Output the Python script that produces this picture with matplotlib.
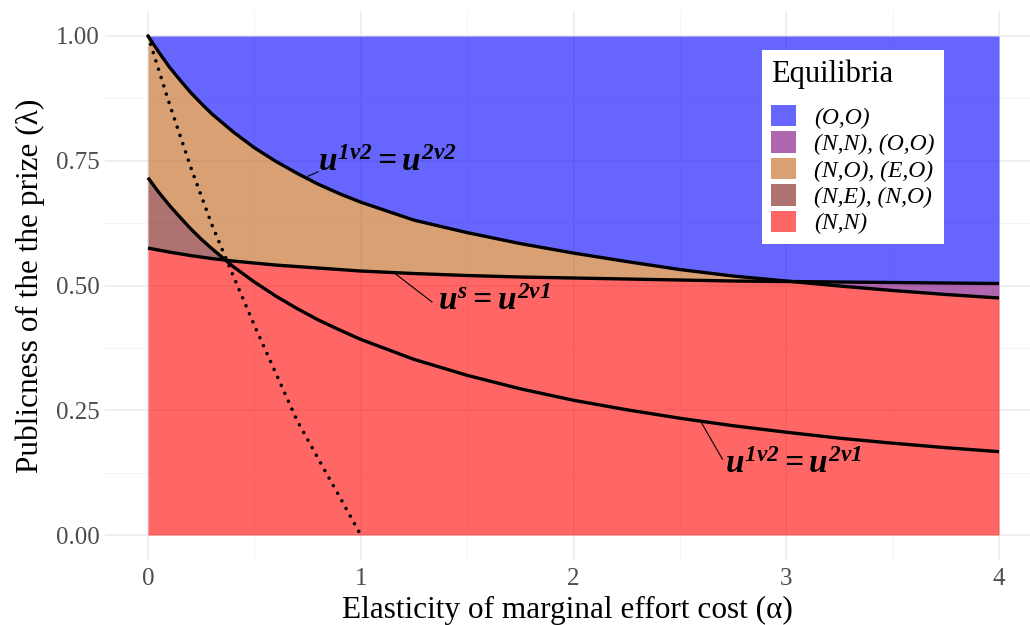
import numpy as np
import matplotlib
matplotlib.use("Agg")
import matplotlib.pyplot as plt
from matplotlib.patches import Patch
from matplotlib.ticker import MultipleLocator

# ---- data ----
alpha = [0, 0.05, 0.1, 0.15, 0.2, 0.25, 0.3, 0.4, 0.5, 0.6, 0.7, 0.8, 0.9, 1.0, 1.25,
         1.5, 1.75, 2.0, 2.25, 2.5, 2.75, 3.0, 3.25, 3.5, 3.75, 4.0]
u1v2_eq_u2v2 = [1.000, 0.968, 0.938, 0.912, 0.887, 0.865, 0.844, 0.808, 0.776, 0.749,
                0.725, 0.703, 0.684, 0.667, 0.631, 0.606, 0.584, 0.565, 0.548, 0.532,
                0.519, 0.509, 0.499, 0.490, 0.482, 0.475]
us_eq_u2v1 = [0.575, 0.571, 0.567, 0.5635, 0.560, 0.557, 0.554, 0.549, 0.545, 0.541,
              0.538, 0.535, 0.532, 0.529, 0.524, 0.520, 0.517, 0.515, 0.513, 0.511,
              0.509, 0.508, 0.507, 0.506, 0.505, 0.504]
u1v2_eq_u2v1 = [0.716, 0.687, 0.661, 0.637, 0.614, 0.593, 0.574, 0.538, 0.507, 0.479,
                0.454, 0.431, 0.411, 0.392, 0.352, 0.320, 0.293, 0.270, 0.251, 0.234,
                0.219, 0.206, 0.194, 0.184, 0.175, 0.167]
dot_alpha = [0, 0.1, 0.2, 0.3, 0.4, 0.5, 0.6, 0.7, 0.8, 0.9, 1.0]
dot_lambda = [1.0, 0.865, 0.738, 0.622, 0.52, 0.42, 0.325, 0.23, 0.153, 0.077, 0.0]

legend_labels = ["(O,O)", "(N,N), (O,O)", "(N,O), (E,O)", "(N,E), (N,O)", "(N,N)"]
region_colors = ["#0000FF", "#7B007B", "#C16117", "#781411", "#FF0000"]
fill_alpha = 0.6

# ---- style ----
plt.rcParams["font.family"] = ["Liberation Serif", "DejaVu Serif"]
plt.rcParams["mathtext.fontset"] = "custom"
plt.rcParams["mathtext.rm"] = "Liberation Serif:italic:bold"
plt.rcParams["mathtext.it"] = "Liberation Serif:italic:bold"
plt.rcParams["mathtext.bf"] = "Liberation Serif:bold"

fig = plt.figure(figsize=(10.30, 6.25), dpi=100)
ax = fig.add_axes([105 / 1030, 1 - 560 / 625, (1030 - 105) / 1030, (560 - 11) / 625])

xpx = 212.75
ax.set_xlim(-43 / xpx, 4 + 31 / xpx)
ax.set_ylim(-25 / 499, 1 + 25 / 499)

# grid
ax.xaxis.set_major_locator(MultipleLocator(1))
ax.xaxis.set_minor_locator(MultipleLocator(0.5))
ax.yaxis.set_major_locator(MultipleLocator(0.25))
ax.yaxis.set_minor_locator(MultipleLocator(0.125))
ax.grid(which="major", color="#EBEBEB", lw=1.1, zorder=0)
ax.grid(which="minor", color="#F2F2F2", lw=0.6, zorder=0)
ax.set_axisbelow(True)
for s in ax.spines.values():
    s.set_visible(False)
ax.tick_params(which="both", length=0, labelsize=18, labelcolor="#4D4D4D")
ax.tick_params(axis="y", pad=4)
ax.tick_params(axis="x", pad=6)
ax.set_yticks([0, 0.25, 0.5, 0.75, 1.0])
ax.set_yticklabels(["0.00", "0.25", "0.50", "0.75", "1.00"])

# ---- regions ----
x = np.array(alpha)
c1 = np.array(u1v2_eq_u2v2)
c2 = np.array(us_eq_u2v1)
c3 = np.array(u1v2_eq_u2v1)
xf = np.linspace(x[0], x[-1], 4001)
f1 = np.interp(xf, x, c1)
f2 = np.interp(xf, x, c2)
f3 = np.interp(xf, x, c3)

kw = dict(alpha=fill_alpha, lw=0, zorder=1)
ax.fill_between(xf, np.maximum(f1, f2), 1.0, color=region_colors[0], **kw)
ax.fill_between(xf, f1, f2, where=f2 > f1, color=region_colors[1], **kw)
ax.fill_between(xf, np.maximum(f2, f3), f1, where=f1 > np.maximum(f2, f3),
                color=region_colors[2], **kw)
ax.fill_between(xf, f2, np.minimum(f3, f1), where=f3 > f2, color=region_colors[3], **kw)
ax.fill_between(xf, 0, np.minimum(f1, f2), color=region_colors[4], **kw)

# ---- curves ----
lw = 2.4
ax.plot(x, c1, color="black", lw=lw, zorder=3, solid_capstyle="butt")
ax.plot(x, c2, color="black", lw=lw, zorder=3, solid_capstyle="butt")
ax.plot(x, c3, color="black", lw=lw, zorder=3, solid_capstyle="butt")
ax.plot(dot_alpha, dot_lambda, color="black", lw=2.6, linestyle=(0, (0.01, 2.4)),
        dash_capstyle="round", zorder=3)

# ---- curve labels ----
lab_fs = 24
ax.text(318 / xpx - 148 / xpx, 0.747, r"$u^{1v2} = u^{2v2}$",
        fontsize=lab_fs, ha="left", va="center", zorder=4)
ax.plot([0.752, 0.80], [0.719, 0.728], color="black", lw=0.8, zorder=4)
ax.text(438 / xpx - 148 / xpx, 0.468, r"$u^{s} = u^{2v1}$", fontsize=lab_fs,
        ha="left", va="center", zorder=4)
ax.plot([1.152, 1.335], [0.527, 0.467], color="black", lw=0.8, zorder=4)
ax.text(725 / xpx - 148 / xpx, 0.141, r"$u^{1v2} = u^{2v1}$",
        fontsize=lab_fs, ha="left", va="center", zorder=4)
ax.plot([2.60, 2.70], [0.226, 0.152], color="black", lw=0.8, zorder=4)

# ---- axis titles ----
ax.set_xlabel("Elasticity of marginal effort cost (α)", fontsize=22.5, labelpad=4)
ax.set_ylabel("Publicness of the the prize (λ)", fontsize=22.5, labelpad=8)

# ---- legend ----
handles = [Patch(facecolor=c, alpha=fill_alpha, edgecolor="none") for c in region_colors]
leg = ax.legend(handles, legend_labels, title="Equilibria", loc="upper left",
                bbox_to_anchor=(762 / 1030, 1 - 50 / 625), bbox_transform=fig.transFigure,
                prop={"style": "italic", "size": 17}, title_fontsize=22,
                frameon=True, fancybox=False, framealpha=1, edgecolor="none",
                handlelength=1.06, handleheight=1.0, labelspacing=0.12,
                handletextpad=0.75, borderpad=0.4, borderaxespad=0)
leg.get_frame().set_linewidth(0)
leg._legend_box.align = "left"
leg._legend_box.sep = 11.5
leg.set_zorder(5)

fig.savefig("out.png", dpi=100)
